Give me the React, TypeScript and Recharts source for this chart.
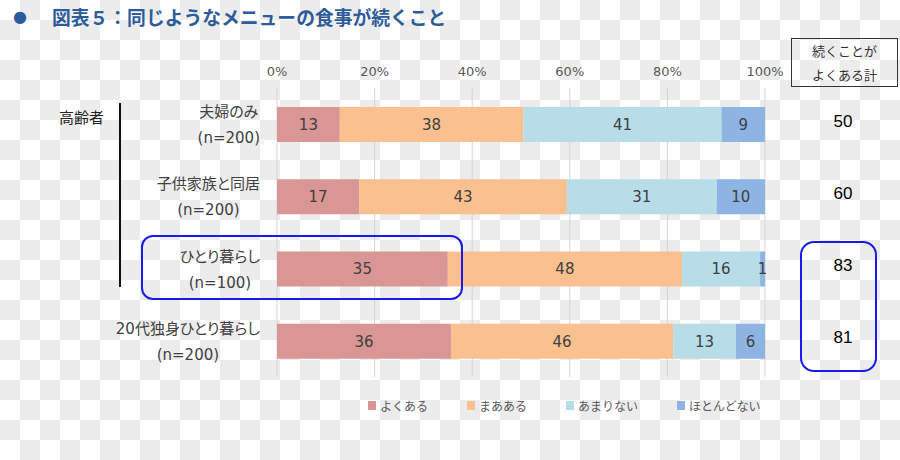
import React from 'react';
import { BarChart, Bar, XAxis, YAxis, CartesianGrid, LabelList, Legend } from 'recharts';

const categories = ['夫婦のみ', '子供家族と同居', 'ひとり暮らし', '20代独身ひとり暮らし'];
const sampleSizes = ['(n=200)', '(n=200)', '(n=100)', '(n=200)'];
const often = [13, 17, 35, 36];
const sometimes = [38, 43, 48, 46];
const rarely = [41, 31, 16, 13];
const almostNever = [9, 10, 1, 6];
const oftenTotal = [50, 60, 83, 81];
const seriesKeys = ['often', 'sometimes', 'rarely', 'almostNever'];
const seriesNames = ['よくある', 'まあある', 'あまりない', 'ほとんどない'];
const seriesColors = ['#d99694', '#fac090', '#b7dee8', '#8eb4e3'];
const xTicks = [0, 0.2, 0.4, 0.6, 0.8, 1];
const title = '図表５：同じようなメニューの食事が続くこと';
const totalHeader = ['続くことが', 'よくある計'];
const groupLabel = '高齢者';

const rows = categories.map((c, i) => ({
  name: c,
  total: String(oftenTotal[i]),
  often: often[i],
  sometimes: sometimes[i],
  rarely: rarely[i],
  almostNever: almostNever[i],
}));

const boundTicks = categories.map((_, i) => i).concat(categories.length);

const FONT_JP = '"Noto Sans CJK JP", "Noto Sans", sans-serif';
const FONT_MIX = '"DejaVu Sans", "Noto Sans CJK JP", sans-serif';
const measureCache: Record<string, number> = {};
function measure(text: string): number {
  if (measureCache[text] !== undefined) return measureCache[text];
  if (typeof document === 'undefined' || !document.body) return text.length * 14;
  const span = document.createElement('span');
  span.style.cssText = `position:absolute;visibility:hidden;white-space:nowrap;font-size:15px;font-family:${FONT_MIX};font-feature-settings:"palt";`;
  span.textContent = text;
  document.body.appendChild(span);
  const w = span.getBoundingClientRect().width;
  document.body.removeChild(span);
  measureCache[text] = w;
  return w;
}

function CategoryTick(props: any) {
  const { x, y, payload } = props;
  const i = categories.indexOf(payload.value);
  const line1 = payload.value;
  const line2 = sampleSizes[i] ?? '';
  const w = Math.max(measure(line1), measure(line2));
  const cx = x - w / 2;
  const st = { fontFeatureSettings: '"palt"' } as React.CSSProperties;
  return (
    <g>
      <text x={cx} y={y - 12} textAnchor="middle" dominantBaseline="central" fill="#404040" fontSize={15} fontFamily={FONT_MIX} style={st}>
        {line1}
      </text>
      <text x={cx} y={y + 14} textAnchor="middle" dominantBaseline="central" fill="#404040" fontSize={15} fontFamily={FONT_MIX} style={st}>
        {line2}
      </text>
    </g>
  );
}

function TotalTick(props: any) {
  const { x, y, payload } = props;
  return (
    <text x={x} y={y - 3} textAnchor="middle" dominantBaseline="central" fill="#000" fontSize={17} fontFamily='"Liberation Sans", Arial, sans-serif'>
      {payload.value}
    </text>
  );
}

function LegendContent() {
  return (
    <div style={{ display: 'flex', marginLeft: 368, height: 20, alignItems: 'center', fontSize: 12, color: '#595959', fontFamily: FONT_JP }}>
      {seriesNames.map((n, i) => (
        <div key={n} style={{ display: 'flex', alignItems: 'center', marginRight: 39 }}>
          <span style={{ display: 'inline-block', width: 8, height: 9, background: seriesColors[i], marginRight: 4 }} />
          <span>{n}</span>
        </div>
      ))}
    </div>
  );
}

export default function App() {
  return (
    <div
      style={{
        position: 'absolute',
        left: 0,
        top: 0,
        width: 900,
        height: 460,
        overflow: 'hidden',
        fontFamily: FONT_MIX,
        backgroundColor: '#ffffff',
        backgroundImage: 'conic-gradient(#ececec 0 25%, #ffffff 0 50%, #ececec 0 75%, #ffffff 0)',
        backgroundSize: '40px 40px',
      }}
    >
      <BarChart
        width={900}
        height={460}
        data={rows}
        layout="vertical"
        stackOffset="expand"
        margin={{ top: 58, right: 15, bottom: 63, left: 77 }}
      >
        <CartesianGrid horizontal={false} vertical stroke="#d4d4d4" yAxisId="cat" />
        <XAxis
          type="number"
          orientation="top"
          domain={[0, 1]}
          ticks={xTicks}
          tickFormatter={(v: number) => `${Math.round(v * 100)}%`}
          axisLine={false}
          tickLine={false}
          tickSize={0}
          tickMargin={12}
          height={30}
          tick={{ fill: '#595959', fontSize: 13 }}
        />
        <YAxis
          yAxisId="bounds"
          type="number"
          domain={[0, categories.length]}
          ticks={boundTicks}
          width={0}
          tick={false}
          tickSize={6}
          tickLine={{ stroke: '#a6a6a6' }}
          axisLine={{ stroke: '#a6a6a6' }}
        />
        <YAxis
          yAxisId="cat"
          type="category"
          dataKey="name"
          width={200}
          axisLine={false}
          tickLine={false}
          tickSize={0}
          tickMargin={17}
          tick={<CategoryTick />}
        />
        <YAxis
          yAxisId="tot"
          orientation="right"
          type="category"
          dataKey="total"
          width={120}
          axisLine={false}
          tickLine={false}
          tickSize={0}
          tickMargin={78}
          tick={<TotalTick />}
        />
        {seriesKeys.map((k, i) => (
          <Bar
            key={k}
            dataKey={k}
            name={seriesNames[i]}
            stackId="a"
            yAxisId="cat"
            fill={seriesColors[i]}
            barSize={35}
            isAnimationActive={false}
          >
            <LabelList dataKey={k} position="center" fill="#404040" fontSize={15} />
          </Bar>
        ))}
        <Legend
          verticalAlign="bottom"
          content={<LegendContent />}
          wrapperStyle={{ top: 395, left: 0, width: 900, height: 20 }}
        />
      </BarChart>

      {/* Title */}
      <div style={{ position: 'absolute', left: 13, top: 0, height: 34, lineHeight: '34px', fontSize: 16, color: '#2e5c9a' }}>●</div>
      <div style={{ position: 'absolute', left: 52, top: 0, height: 34, lineHeight: '34px', fontSize: 18.8, fontWeight: 700, color: '#2e5c9a', whiteSpace: 'nowrap', fontFamily: FONT_JP }}>
        {title}
      </div>

      {/* Header box */}
      <div
        style={{
          position: 'absolute',
          left: 791,
          top: 38,
          width: 107,
          height: 49,
          boxSizing: 'border-box',
          border: '1.5px solid #333',
          fontSize: 13,
          color: '#333',
          textAlign: 'center',
          lineHeight: '24px',
          fontFamily: FONT_JP,
        }}
      >
        <div>{totalHeader[0]}</div>
        <div>{totalHeader[1]}</div>
      </div>

      {/* Group label and bracket */}
      <div style={{ position: 'absolute', left: 59, top: 107, fontSize: 15, lineHeight: '20px', color: '#222', fontFamily: FONT_JP }}>{groupLabel}</div>
      <div style={{ position: 'absolute', left: 119, top: 103, width: 2, height: 184, background: '#111' }} />

      {/* Highlight boxes */}
      <div style={{ position: 'absolute', left: 141, top: 235, width: 322, height: 65, boxSizing: 'border-box', border: '2px solid #1a1aee', borderRadius: 12 }} />
      <div style={{ position: 'absolute', left: 800, top: 241, width: 77, height: 131, boxSizing: 'border-box', border: '2px solid #1a1aee', borderRadius: 14 }} />
    </div>
  );
}
